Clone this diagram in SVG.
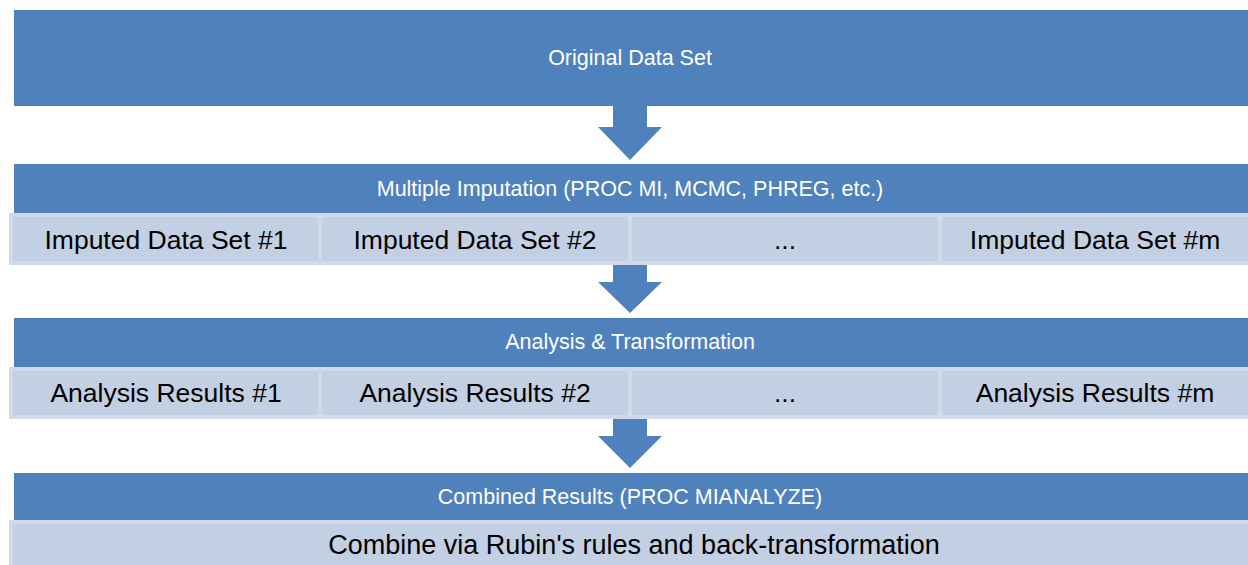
<svg xmlns="http://www.w3.org/2000/svg" width="1248" height="565" viewBox="0 0 1248 565">
<style>
.band{fill:#4F81BD}
.cell{fill:#C3CFE3;stroke:#D2DAEA;stroke-width:4}
.arrow{fill:#4F81BD}
.ht{font-family:"Liberation Sans",Arial,sans-serif;font-size:21.5px;fill:#FFFFFF;text-anchor:middle;dominant-baseline:central}
.ct{font-family:"Liberation Sans",Arial,sans-serif;font-size:26.5px;fill:#000000;text-anchor:middle;dominant-baseline:central}
.big{font-size:27px}
</style>
<rect width="1248" height="565" fill="#FFFFFF"/>
<g id="connectors">
<polygon class="arrow" points="613,105 647,105 647,127 662,127 630,160 598,127 613,127"/>
<polygon class="arrow" points="613,264 647,264 647,282 662,282 630,313 598,282 613,282"/>
<polygon class="arrow" points="613,418 647,418 647,436 662,436 630,468 598,436 613,436"/>
</g>
<g id="original">
<rect class="band" x="14" y="10" width="1234" height="96"/>
<text class="ht" x="630" y="58">Original Data Set</text>
</g>
<g id="imputation">
<rect class="band" x="14" y="164" width="1234" height="49"/>
<text class="ht" x="630" y="189">Multiple Imputation (PROC MI, MCMC, PHREG, etc.)</text>
</g>
<g id="imputed1"><rect class="cell" x="11" y="215" width="309" height="48"/><text class="ct" x="166" y="240">Imputed Data Set #1</text></g>
<g id="imputed2"><rect class="cell" x="320" y="215" width="310" height="48"/><text class="ct" x="475" y="240">Imputed Data Set #2</text></g>
<g id="imputed3"><rect class="cell" x="630" y="215" width="310" height="48"/><text class="ct" x="785" y="240">...</text></g>
<g id="imputedm"><rect class="cell" x="940" y="215" width="310" height="48"/><text class="ct" x="1095" y="240">Imputed Data Set #m</text></g>
<g id="analysis">
<rect class="band" x="14" y="318" width="1234" height="50"/>
<text class="ht" x="630" y="342">Analysis &amp; Transformation</text>
</g>
<g id="result1"><rect class="cell" x="11" y="369" width="309" height="48"/><text class="ct" x="166" y="393">Analysis Results #1</text></g>
<g id="result2"><rect class="cell" x="320" y="369" width="310" height="48"/><text class="ct" x="475" y="393">Analysis Results #2</text></g>
<g id="result3"><rect class="cell" x="630" y="369" width="310" height="48"/><text class="ct" x="785" y="393">...</text></g>
<g id="resultm"><rect class="cell" x="940" y="369" width="310" height="48"/><text class="ct" x="1095" y="393">Analysis Results #m</text></g>
<g id="combined">
<rect class="band" x="14" y="473" width="1234" height="47"/>
<text class="ht" x="630" y="497">Combined Results (PROC MIANALYZE)</text>
</g>
<g id="rubin"><rect class="cell" x="11" y="522" width="1239" height="48"/><text class="ct big" x="634" y="545">Combine via Rubin's rules and back-transformation</text></g>
</svg>
